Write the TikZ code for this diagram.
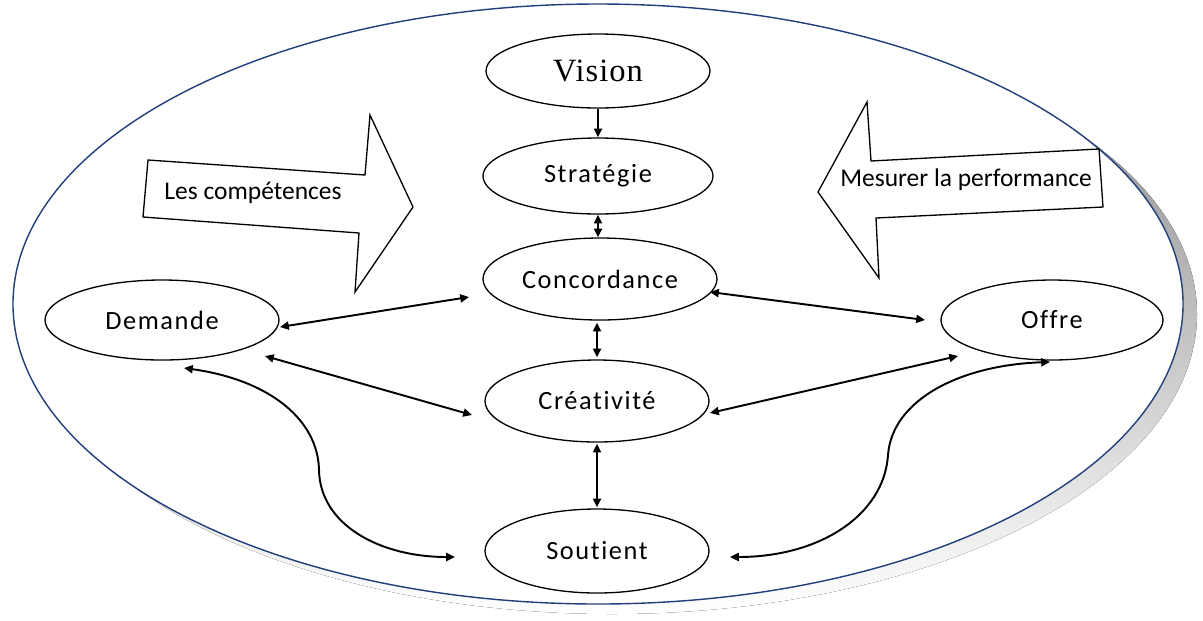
\documentclass[tikz,border=0pt]{standalone}
\usepackage{fontspec}
\setmainfont{Carlito}[Ligatures=NoCommon]
\newfontfamily\visionfont{Liberation Serif}
\usetikzlibrary{shapes.geometric,arrows.meta,calc}
\newdimen\pxu \pxu=0.02cm
\definecolor{frame}{HTML}{233E7C}
\definecolor{shade}{HTML}{BFBFBF}
\begin{document}
\begin{tikzpicture}[x=0.02cm,y=-0.02cm,
  oval/.style={ellipse,draw=black,line width=0.75pt,fill=white,inner sep=0pt,
    font=\fontsize{15}{18}\selectfont\addfontfeature{LetterSpace=6}},
  blockarrow/.style={draw=black,line width=0.75pt,fill=white,line join=miter},
  arrowlabel/.style={inner sep=0pt,font=\fontsize{14.5}{17}\selectfont},
  link/.style={line width=1.1pt,{Triangle[length=5pt,width=4.6pt]}-{Triangle[length=5pt,width=4.6pt]}},
  onelink/.style={line width=1.1pt,-{Triangle[length=5pt,width=4.6pt]}}]
\useasboundingbox (0,0) rectangle (1203,620);
% outer ellipse with shadow
\fill[shade] (612,314) ellipse [x radius=585\pxu, y radius=300\pxu];
\draw[frame,line width=0.8pt,fill=white] (598,304) ellipse [x radius=585\pxu, y radius=300\pxu];
% block arrows
\draw[blockarrow] (148,160) -- (365,175) -- (370,115) -- (413,207) -- (355,292) -- (359,233) -- (143,217) -- cycle;
\node[arrowlabel] (lc) at (253,193) {Les compétences};
\draw[blockarrow] (867,102) -- (818,192) -- (879,278) -- (876,218) -- (1103,207) -- (1099,149) -- (871,161) -- cycle;
\node[arrowlabel] (mp) at (966,180) {Mesurer la performance};
% nodes
\node[oval,minimum width=224\pxu,minimum height=74\pxu,font=\visionfont\fontsize{18.5}{20}\selectfont\addfontfeature{LetterSpace=3}] (vis) at (598,71) {Vision};
\node[oval,minimum width=230\pxu,minimum height=76\pxu] (str) at (598,176) {Stratégie};
\node[oval,minimum width=234\pxu,minimum height=82\pxu] (conc) at (600,279) {Concordance};
\node[oval,minimum width=224\pxu,minimum height=82\pxu] (crea) at (597,401) {Créativité};
\node[oval,minimum width=224\pxu,minimum height=84\pxu] (sou) at (597,551) {Soutient};
\node[oval,minimum width=234\pxu,minimum height=80\pxu] (dem) at (162,320) {Demande};
\node[oval,minimum width=222\pxu,minimum height=80\pxu] (off) at (1052,320) {Offre};
% connectors
\draw[onelink] (vis.south) -- (str.north);
\draw[link] (str.south) -- (str.south |- conc.north);
\draw[link] ($(conc.south)+(-3,2)$) -- ($(crea.north)+(0,-2)$);
\draw[link] ($(crea.south)+(0,1)$) -- ($(sou.north)+(0,-1)$);
\draw[link] ($(dem)+(118,7)$) -- ($(conc)+(-131,18)$);
\draw[link] ($(dem)+(103,36)$) -- ($(crea)+(-125,14)$);
\draw[link] ($(conc)+(110,13)$) -- ($(off)+(-127,0)$);
\draw[link] ($(crea)+(113,12)$) -- ($(off)+(-94,36)$);
\draw[link] ($(dem)+(22,48)$) .. controls (270,380) and (318,420) .. (319,470)
   .. controls (320,525) and (380,557) .. ($(sou)+(-142,6)$);
\draw[link] ($(off)+(-2,42)$) .. controls (960,365) and (892,400) .. (888,455)
   .. controls (884,515) and (820,557) .. ($(sou)+(133,6)$);
\end{tikzpicture}
\end{document}
